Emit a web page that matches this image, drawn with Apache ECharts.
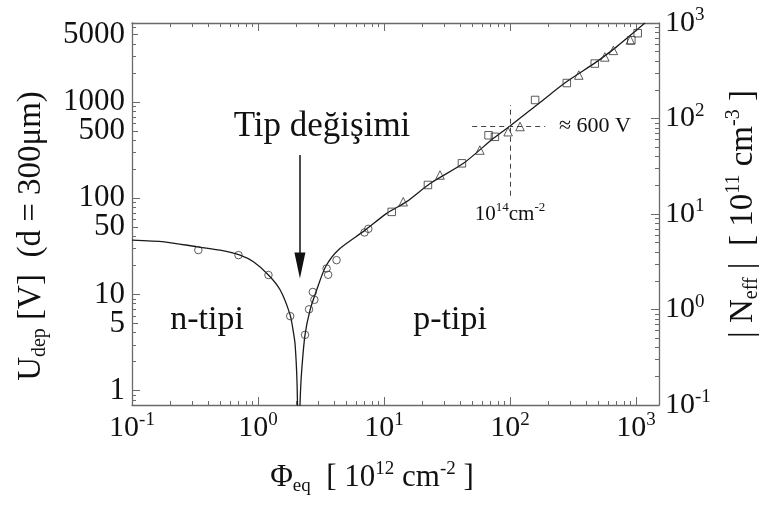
<!DOCTYPE html>
<html><head><meta charset="utf-8">
<script src="https://cdn.jsdelivr.net/npm/echarts@6/dist/echarts.min.js"></script>
<style>html,body{margin:0;padding:0;background:#fff}#c{width:773px;height:506px}</style>
</head><body><div id="c"></div>
<script>
// ---- data: [Phi_eq (1e12 cm^-2), U_dep (V)] ----
const curvePhi = [0.1, 0.18, 0.33, 0.5, 0.72, 0.92, 1.21, 1.5, 1.8, 1.9, 1.97, 2.04, 2.1, 2.16, 2.22, 2.36, 2.59, 2.92, 3.45, 4.4, 7.0, 10.5, 15.1, 23.2, 42.7, 73.8, 100, 170, 282, 488, 703, 1014, 1175];
const curveU   = [36.7, 35.2, 31.2, 28.8, 25.6, 21.8, 15.9, 11.1, 6.1, 4.2, 3.0, 1.2, 0.2, 0.8, 1.6, 3.8, 6.9, 11.1, 19.6, 29.5, 46, 69.5, 92, 142, 230, 419, 562, 970, 1625, 2618, 3750, 5590, 6600];
const circlePhi = [0.336, 0.70, 1.21, 1.80, 2.36, 2.54, 2.72, 2.80, 3.5, 3.6, 4.2, 7.0, 7.5];
const circleU   = [28.9, 25.6, 15.9, 5.95, 3.8, 7.0, 10.6, 8.8, 18.6, 16.0, 22.7, 44, 48];
const trianglePhi = [14.2, 27.8, 57.6, 96.5, 120, 351, 565, 660, 900];
const triangleU   = [91.8, 174, 316, 490, 555, 1900, 2930, 3430, 4400];
const squarePhi = [11.5, 22.3, 41.5, 67.5, 75.8, 158, 282, 470, 917, 1030];
const squareU   = [72, 137, 230, 450, 434, 1047, 1570, 2500, 4370, 5170];
// annotations
const refPhi = 100;            // 10^14 cm^-2
const refU = 562;              // ~600 V
const refHPhi = [50, 190];     // horizontal dashed extent
const refVU = [106, 929];      // vertical dashed extent
const inversionPhi = 2.15;     // arrow
const arrowU = [281, 20];
// axes
const xRange = [0.1, 1520];
const uRange = [0.71, 6600];
const nRange = [0.1, 1000];
const uLabels = [1, 10, 100, 1000];      // plus x5 labels: 5, 50, 500, 5000
const labelMult = 5;
const minorK = [2, 3, 4, 5, 6, 7, 8, 9];

const FONT = "'Liberation Serif','Times New Roman',serif";
const AX = '#6a6a6a';
const INK = '#111';
const isPow = v => Math.abs(Math.log10(v) - Math.round(Math.log10(v))) < 1e-6;
const zip = (a, b) => a.map((v, i) => [v, b[i]]);

const supRich = {
  b: {fontSize: 30, fontFamily: FONT, color: INK, lineHeight: 34},
  s: {fontSize: 19, fontFamily: FONT, color: INK, verticalAlign: 'top', lineHeight: 20}
};
const powLabel = v => isPow(v) ? '{b|10}{s|' + Math.round(Math.log10(v)) + '}' : '';

function logAxis(range, k, position, o) {
  return Object.assign({
    type: 'log', logBase: 10, min: range[0] / k, max: range[1] / k, position: position,
    splitNumber: 5, silent: true,
    axisLine: {show: false}, splitLine: {show: false}, minorTick: {show: false},
    axisTick: {show: true, inside: true, length: 4, lineStyle: {color: AX, width: 1}},
    axisLabel: {show: false}, axisPointer: {show: false}
  }, o || {});
}

const xAxes = [
  logAxis(xRange, 1, 'bottom', {
    axisLine: {show: true, lineStyle: {color: AX, width: 1.3}},
    axisTick: {show: true, inside: true, length: 8, lineStyle: {color: AX, width: 1}},
    axisLabel: {show: true, margin: 6, formatter: powLabel, rich: supRich, showMinLabel: true, showMaxLabel: true}
  }),
  logAxis(xRange, 1, 'top', {
    axisLine: {show: true, lineStyle: {color: AX, width: 1.3}},
    axisTick: {show: true, inside: true, length: 8, lineStyle: {color: AX, width: 1}}
  })
];
minorK.forEach(k => { xAxes.push(logAxis(xRange, k, 'bottom')); xAxes.push(logAxis(xRange, k, 'top')); });

const plainRich = {b: {fontSize: 31, fontFamily: FONT, color: INK}};
const yAxes = [
  logAxis(uRange, 1, 'left', {
    axisLine: {show: true, lineStyle: {color: AX, width: 1.3}},
    axisTick: {show: true, inside: true, length: 8, lineStyle: {color: AX, width: 1}},
    axisLabel: {show: true, margin: 7, formatter: v => uLabels.some(u => Math.abs(u - v) / u < 1e-6) ? '{b|' + Math.round(v) + '}' : '', rich: plainRich}
  }),
  logAxis(uRange, labelMult, 'left', {
    axisTick: {show: true, inside: true, length: 6, lineStyle: {color: AX, width: 1}},
    axisLabel: {show: true, margin: 7, formatter: v => isPow(v) ? '{b|' + Math.round(v * labelMult) + '}' : '', rich: plainRich}
  }),
  logAxis(nRange, 1, 'right', {
    axisLine: {show: true, lineStyle: {color: AX, width: 1.3}},
    axisTick: {show: true, inside: true, length: 8, lineStyle: {color: AX, width: 1}},
    axisLabel: {show: true, margin: 6, formatter: powLabel, rich: supRich, showMinLabel: true, showMaxLabel: true}
  })
];
minorK.forEach(k => { if (k !== labelMult) yAxes.push(logAxis(uRange, k, 'left')); yAxes.push(logAxis(nRange, k, 'right')); });

const chart = echarts.init(document.getElementById('c'), null, {renderer: 'canvas'});
const markerStyle = {color: 'rgba(255,255,255,0)', borderColor: '#333', borderWidth: 1};

function titleRich(size) {
  const sub = Math.round(size * 0.6);
  return {
    b: {fontSize: size, fontFamily: FONT, fill: INK, color: INK, lineHeight: size + 5},
    sub: {fontSize: sub, fontFamily: FONT, fill: INK, color: INK, verticalAlign: 'bottom', lineHeight: sub + 1},
    s: {fontSize: sub, fontFamily: FONT, fill: INK, color: INK, verticalAlign: 'top', lineHeight: sub + 1}
  };
}
const annRich = {
  b: {fontSize: 21, fontFamily: FONT, fill: INK, color: INK, lineHeight: 25},
  s: {fontSize: 13, fontFamily: FONT, fill: INK, color: INK, verticalAlign: 'top', lineHeight: 13}
};
function txt(x, y, text, rich, rot) {
  return {type: 'text', x: x, y: y, rotation: rot || 0, silent: true,
    style: {text: text, rich: rich, align: 'center', verticalAlign: 'middle', textAlign: 'center', textVerticalAlign: 'middle', fill: INK}};
}

chart.setOption({
  animation: false,
  backgroundColor: '#fff',
  grid: {left: 132, right: 114, top: 23, bottom: 101, containLabel: false, outerBoundsMode: 'none'},
  xAxis: xAxes,
  yAxis: yAxes,
  series: [
    {type: 'line', data: zip(curvePhi, curveU), showSymbol: false, symbol: 'none', clip: true, smooth: 0.25,
     lineStyle: {color: '#1a1a1a', width: 1.3}, z: 3,
     markLine: {silent: true, animation: false, label: {show: false}, symbol: ['none', 'none'],
       data: [
         [{coord: [refHPhi[0], refU], lineStyle: {type: [5, 4], color: '#444', width: 1}}, {coord: [refHPhi[1], refU]}],
         [{coord: [refPhi, refVU[0]], lineStyle: {type: [5, 4], color: '#444', width: 1}}, {coord: [refPhi, refVU[1]]}],
         [{coord: [inversionPhi, arrowU[0]], symbol: 'none', lineStyle: {type: 'solid', color: '#111', width: 1.5}},
          {coord: [inversionPhi, arrowU[1]], symbol: 'triangle', symbolSize: [11, 26], symbolRotate: 180, itemStyle: {color: '#111'}}]
       ]}},
    {type: 'scatter', data: zip(circlePhi, circleU), symbol: 'circle', symbolSize: 7.5, itemStyle: markerStyle, z: 4},
    {type: 'scatter', data: zip(trianglePhi, triangleU), symbol: 'triangle', symbolSize: 8.5, itemStyle: markerStyle, z: 4},
    {type: 'scatter', data: zip(squarePhi, squareU), symbol: 'rect', symbolSize: 7.5, itemStyle: markerStyle, z: 4}
  ],
  graphic: [
    txt(372, 478, '{b|Φ}{sub|eq}{b|  [ 10}{s|12}{b| cm}{s|-2}{b| ]}', titleRich(31)),
    txt(31, 236, '{b|U}{sub|dep}{b| [V]  (d = 300μm)}', titleRich(33), Math.PI / 2),
    txt(743, 214, '{b|| N}{sub|eff}{b| |  [ 10}{s|11}{b| cm}{s|-3}{b| ]}', titleRich(33), Math.PI / 2),
    txt(322, 127, '{b|Tip değişimi}', {b: {fontSize: 35, fontFamily: FONT, fill: INK}}),
    txt(207, 320, '{b|n-tipi}', {b: {fontSize: 34, fontFamily: FONT, fill: INK}}),
    txt(450, 320, '{b|p-tipi}', {b: {fontSize: 34, fontFamily: FONT, fill: INK}}),
    txt(595, 126, '{b|≈ 600 V}', {b: {fontSize: 22, fontFamily: FONT, fill: INK}}),
    txt(510, 214, '{b|10}{s|14}{b|cm}{s|-2}', annRich)
  ]
});
</script></body></html>
